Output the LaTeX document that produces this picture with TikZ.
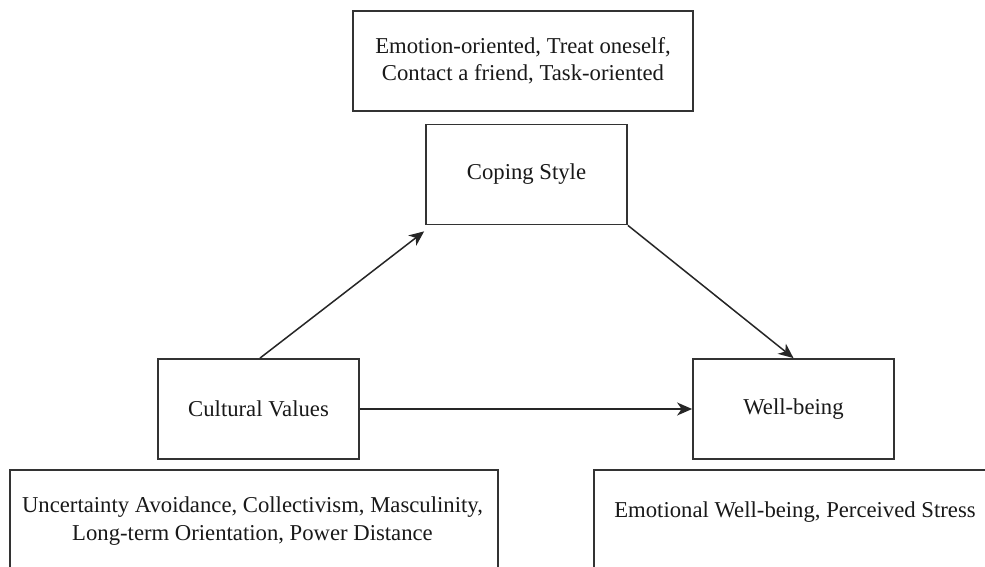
\documentclass[tikz,border=0pt]{standalone}
\usepackage{fontspec}
\setmainfont{Liberation Serif}
\usetikzlibrary{arrows.meta,calc}

\tikzset{
  lbl/.style={font=\fontsize{22.7}{27.5}\selectfont, text=black!90, align=center, inner sep=0pt},
  box/.style={draw=black!80, line width=1.8pt, fill=white, inner sep=0pt},
  varbox/.style={box, lbl, minimum width=201pt, minimum height=100pt},
  link/.style={draw=black!85, line width=1.5pt, -{Stealth[length=15pt,width=13pt,inset=4.5pt]}},
}

\begin{document}
\begin{tikzpicture}[x=1pt,y=-1pt]
  \useasboundingbox (0,0) rectangle (985,567);
  \clip (0,0) rectangle (985,567);
  \fill[white] (0,0) rectangle (985,567);

  % list of coping strategies
  \node[box, lbl, minimum width=340pt, minimum height=100pt] (cope list) at (523,61)
    {Emotion-oriented, Treat oneself,\\Contact a friend, Task-oriented};

  % the three constructs
  \node[varbox] (cs) at (526.5,174.5) {Coping Style};
  \node[varbox] (cv) at (258.5,409) {Cultural Values};
  \node[varbox] (wb) at (793.5,409) {Well-being};

  % dimensions of culture
  \node[box, minimum width=488pt, minimum height=120pt, anchor=north west] (cv list) at (9,469) {};
  \node[lbl] (cv text) at (252.5,521)
    {Uncertainty Avoidance, Collectivism, Masculinity,\\Long-term Orientation, Power Distance};

  % well-being measures
  \node[box, minimum width=420pt, minimum height=120pt, anchor=north west] (wb list) at (593,469) {};
  \node[lbl] (wb text) at (795,512) {Emotional Well-being, Perceived Stress};

  % paths of the model
  \draw[link] ($(cv.north)+(1.5,0)$) -- ($(cs.south west)+(-1,6)$);
  \draw[link] (cs.south east) -- (wb.north);
  \draw[link] (cv.east) -- (wb.west);
\end{tikzpicture}
\end{document}
